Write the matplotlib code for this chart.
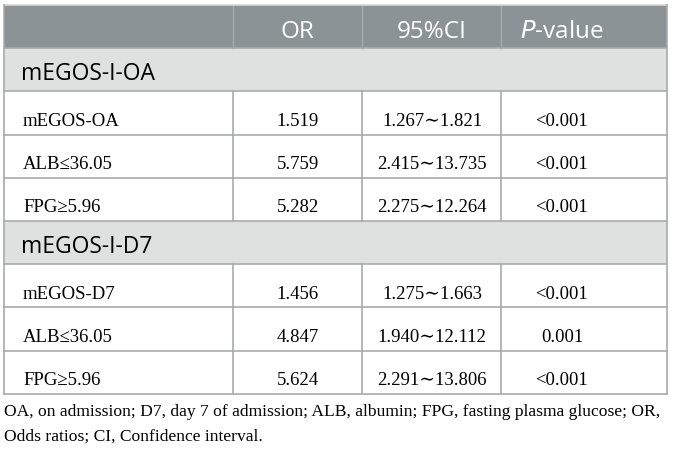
import matplotlib
matplotlib.use("Agg")
import matplotlib.pyplot as plt

header = ["", "OR", "95%CI", "$\\it{P}$-value"]
groups = ["mEGOS-I-OA", "mEGOS-I-D7"]
variables = [["mEGOS-OA", "ALB≤36.05", "FPG≥5.96"],
             ["mEGOS-D7", "ALB≤36.05", "FPG≥5.96"]]
odds = [["1.519", "5.759", "5.282"],
        ["1.456", "4.847", "5.624"]]
ci = [["1.267∼1.821", "2.415∼13.735", "2.275∼12.264"],
      ["1.275∼1.663", "1.940∼12.112", "2.291∼13.806"]]
pvals = [["<0.001", "<0.001", "<0.001"],
         ["<0.001", "0.001", "<0.001"]]
footnote = ["OA, on admission; D7, day 7 of admission; ALB, albumin; FPG, fasting plasma glucose; OR,",
            "Odds ratios; CI, Confidence interval."]

SANS = ["Open Sans", "DejaVu Sans"]
SERIF = ["Liberation Serif", "DejaVu Serif"]
HEAD_BG = "#8c9396"
GROUP_BG = "#dfe0e0"
LINE = "#a9abab"

fig = plt.figure(figsize=(6.73, 4.5), dpi=100)
ax = fig.add_axes([0, 0, 1, 1])
ax.set_xlim(0, 673)
ax.set_ylim(450, 0)
ax.axis("off")

left, right = 4, 667
col_edges = [left, 233, 362, 501, right]
col_centers = [None, 297.5, 432, 562]
top, rh = 5, 43.2

# header row
ax.add_patch(plt.Rectangle((left, top), right - left, rh, color=HEAD_BG, lw=0))
for x in col_edges[1:-1]:
    ax.plot([x, x], [top, top + rh], color="#a6acaf", lw=1)
for j in range(1, 4):
    ax.text(col_centers[j], top + 33, header[j], color="white", fontsize=17.5,
            family=SANS, ha="center", va="baseline")

row = 1
for g, name in enumerate(groups):
    y0 = top + row * rh
    ax.add_patch(plt.Rectangle((left, y0), right - left, rh, color=GROUP_BG, lw=0))
    ax.text(21, y0 + 32, name, color="black", fontsize=16.5, family=SANS,
            ha="left", va="baseline")
    row += 1
    for i in range(len(variables[g])):
        y0 = top + row * rh
        yb = y0 + 34.5
        ax.text(23, yb, variables[g][i], fontsize=13.5, family=SERIF, ha="left", va="baseline")
        ax.text(col_centers[1], yb, odds[g][i], fontsize=13.5, family=SERIF, ha="center", va="baseline")
        ax.text(col_centers[2], yb, ci[g][i], fontsize=13.5, family=SERIF, ha="center", va="baseline")
        ax.text(col_centers[3], yb, pvals[g][i], fontsize=13.5, family=SERIF, ha="center", va="baseline")
        for x in col_edges[1:-1]:
            ax.plot([x, x], [y0, y0 + rh], color=LINE, lw=1.2)
        row += 1

# horizontal rules and outer border
for r in range(1, row + 1):
    ax.plot([left, right], [top + r * rh, top + r * rh], color=LINE, lw=1.2)
ax.plot([left, right], [top, top], color="#d6d8d8", lw=1.2)
ax.plot([left, left], [top, top + row * rh], color=LINE, lw=1.2)
ax.plot([right, right], [top, top + row * rh], color=LINE, lw=1.2)

for k, line in enumerate(footnote):
    ax.text(4, 416 + k * 25, line, fontsize=12.6, family=SERIF, ha="left", va="baseline")

fig.savefig("out.png", dpi=100)
